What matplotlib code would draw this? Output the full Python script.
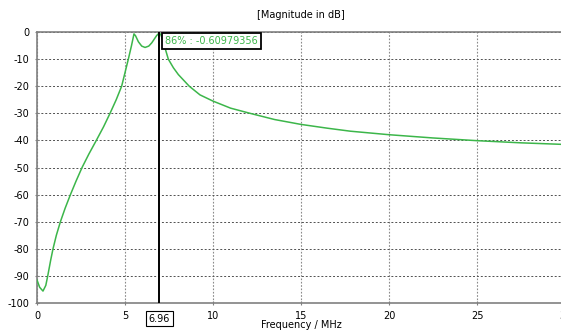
import matplotlib.pyplot as plt
import numpy as np

freq_mhz = [0, 0.15, 0.34, 0.5, 0.61, 0.78, 0.91, 1.1, 1.33, 1.6, 1.9, 2.22, 2.56,
            2.95, 3.37, 3.78, 4.15, 4.5, 4.81, 5.0, 5.19, 5.37, 5.51, 5.6, 5.76,
            5.95, 6.14, 6.35, 6.52, 6.8, 6.95, 7.05, 7.18, 7.46, 7.75, 8.03, 8.65,
            9.26, 10, 11, 12.1, 13.5, 15, 16.5, 17.8, 20, 22.5, 25, 27.5, 30]
mag_db = [-91.5, -94.2, -95.6, -93.5, -90, -84.1, -80, -75, -70, -65, -60, -55, -50,
          -45, -40, -35, -30, -25, -20, -15, -10, -5, -0.7, -1.4, -3.6,
          -5.2, -5.7, -5.2, -4.0, -1.3, -0.3, -1.2, -3.8, -10.0, -13.2, -15.7, -20,
          -23.2, -25.5, -28.1, -30, -32.3, -34.1, -35.5, -36.6, -37.9, -39.1, -40.1, -40.9, -41.5]
xticks = [0, 5, 10, 15, 20, 25, 30]
yticks = [0, -10, -20, -30, -40, -50, -60, -70, -80, -90, -100]
cursor_x = 6.96
cursor_text = "86% : -0.60979356"

green = '#3cb64a'

fig = plt.figure(figsize=(5.61, 3.31), dpi=100)
ax = fig.add_axes([37/561, 1-303/331, 528/561, 271/331])

ax.plot(freq_mhz, mag_db, color=green, lw=1.1, zorder=3)
ax.axvline(cursor_x, color='black', lw=1.4, zorder=4)

ax.set_xlim(0, 30)
ax.set_ylim(-100, 0)
ax.set_xticks(xticks)
ax.set_yticks(yticks)
ax.set_xticklabels([str(t) for t in xticks])
ax.set_yticklabels([str(t) for t in yticks])
ax.tick_params(labelsize=7, length=3, color='#808080', direction='inout', pad=4)

ax.yaxis.grid(True, linestyle=(0, (2, 2)), color='#505050', lw=0.7)
ax.xaxis.grid(True, linestyle=(0, (1.5, 1.5)), color='#8a8a8a', lw=0.8)
for s in ['left', 'bottom', 'top']:
    ax.spines[s].set_color('#808080')
    ax.spines[s].set_linewidth(1.2)
ax.spines['right'].set_visible(False)

ax.text(7.27, -1.5, cursor_text, color=green, fontsize=7, ha='left', va='top',
        bbox=dict(boxstyle='square,pad=0.35', fc='white', ec='black', lw=1.3), zorder=5)
ax.text(cursor_x, -103.9, f"{cursor_x:.2f}", fontsize=7, ha='center', va='top',
        bbox=dict(boxstyle='square,pad=0.3', fc='white', ec='black', lw=0.8), zorder=5)

fig.text(301/561, 1-15/331, "[Magnitude in dB]", fontsize=7, ha='center', va='center')
fig.text(301/561, 1-325/331, "Frequency / MHz", fontsize=7, ha='center', va='center')

fig.savefig('out.png', dpi=100)
